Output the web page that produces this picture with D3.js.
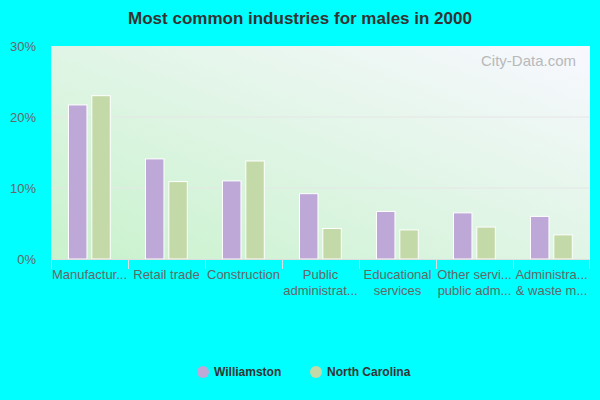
<!DOCTYPE html>
<html><head><script src="https://cdn.jsdelivr.net/npm/d3@7"></script>
<style>body{margin:0;background:#00ffff;font-family:"Liberation Sans",Arial,sans-serif}</style></head>
<body><svg id="c" width="600" height="400"></svg>
<script>
const categories=[["Manufactur..."],["Retail trade"],["Construction"],["Public","administrat..."],["Educational","services"],["Other servi...","public adm..."],["Administra...","& waste m..."]];
const williamston=[21.7,14.1,11.0,9.2,6.7,6.5,6.0];
const northCarolina=[23.0,10.9,13.8,4.3,4.1,4.5,3.4];
const yTicks=[0,10,20,30];
const svg=d3.select("#c");
const L=51,R=590,T=46,B=259;
const defs=svg.append("defs");
const g=defs.append("linearGradient").attr("id","bg").attr("x1","0").attr("y1","1").attr("x2","1").attr("y2","0");
g.append("stop").attr("offset","0").attr("stop-color","#c8f2cc");
g.append("stop").attr("offset","1").attr("stop-color","#f8f8ff");
svg.append("rect").attr("x",L).attr("y",T).attr("width",R-L).attr("height",B-T).attr("fill","url(#bg)");
const x=d3.scaleBand().domain(d3.range(categories.length)).range([L,R]);
const y=d3.scaleLinear().domain([0,30]).range([B,T]);
yTicks.forEach(t=>{ if(t>0&&t<30) svg.append("line").attr("x1",L).attr("x2",R).attr("y1",y(t)).attr("y2",y(t)).attr("stroke","#e6e6e6");});
svg.append("g").selectAll("text").data(yTicks).join("text").attr("x",36).attr("y",d=>y(d)+5).attr("text-anchor","end").attr("font-size",13).attr("fill","#666").text(d=>d+"%");
const bw=x.bandwidth();
const drawBars=(vals,off,col)=>svg.append("g").selectAll("rect").data(vals).join("rect")
 .attr("x",(d,i)=>x(i)+bw*off).attr("width",bw*0.24).attr("y",d=>y(d)).attr("height",d=>B-y(d))
 .attr("fill",col).attr("stroke","#fff").attr("stroke-width",1);
drawBars(williamston,0.227,"#bea8d8");
drawBars(northCarolina,0.53,"#c4d9a8");
svg.append("line").attr("x1",L).attr("x2",R).attr("y1",B+0.5).attr("y2",B+0.5).attr("stroke","#ddd");
categories.forEach((c,i)=>{
 svg.append("line").attr("x1",x(i)+0.5).attr("x2",x(i)+0.5).attr("y1",B).attr("y2",B+10).attr("stroke","#ddd");
 c.forEach((s,j)=>svg.append("text").attr("x",x(i)+bw/2).attr("y",B+20+j*16).attr("text-anchor","middle").attr("font-size",13).attr("fill","#666").text(s));
});
svg.append("line").attr("x1",R-0.5).attr("x2",R-0.5).attr("y1",B).attr("y2",B+10).attr("stroke","#ddd");
svg.append("text").attr("x",300).attr("y",24).attr("text-anchor","middle").attr("font-size",17).attr("font-weight","bold").attr("fill","#333").text("Most common industries for males in 2000");
svg.append("text").attr("x",576).attr("y",66).attr("text-anchor","end").attr("font-size",15).attr("fill","#aaa").attr("opacity",0.8).text("City-Data.com");
const leg=[["Williamston","#bea8d8",197],["North Carolina","#c4d9a8",310]];
leg.forEach(([n,c,lx])=>{svg.append("circle").attr("cx",lx+6).attr("cy",372).attr("r",6).attr("fill",c);
 svg.append("text").attr("x",lx+17).attr("y",376).attr("font-size",12).attr("font-weight","bold").attr("fill","#333").text(n);});
</script></body></html>
